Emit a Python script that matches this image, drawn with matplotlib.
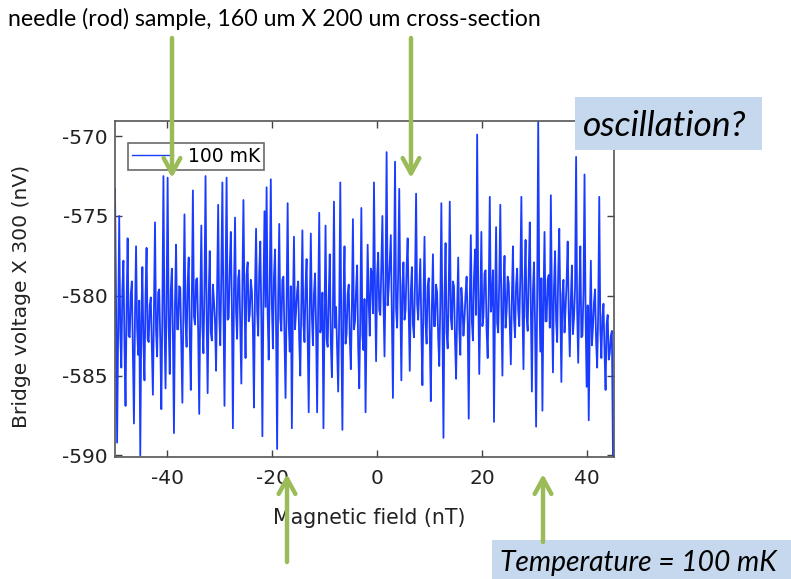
import numpy as np
import matplotlib
matplotlib.use("Agg")
import matplotlib.pyplot as plt
from matplotlib.patches import Rectangle, FancyArrowPatch

plt.rcParams["axes.unicode_minus"] = False

W, H = 791, 579

# field sweep (nT) and bridge voltage x 300 (nV)
FIELD_START, FIELD_STOP = -50.0, 45.0
bridge_nv = [
    # -50 .. -40.6
    -573.3, -580.4, -589.2, -581.8, -575.0, -582.3, -584.5, -579.6, -577.8, -583.1, -586.9, -580.7,
    -576.4, -582.5, -582.6, -579.9, -579.1, -583.4, -588.0, -581.2, -576.9, -582.0, -583.7, -580.3,
    -590.0, -581.6, -578.2, -583.0, -585.3, -580.0, -577.0, -582.7, -582.9, -580.6, -580.1, -583.3,
    -586.2, -581.0, -575.4, -582.2, -583.8, -579.8, -579.6, -582.8, -587.1, -580.9, -572.5, -581.7,
    # -40.4 .. -31.0
    -585.8, -580.2, -572.6, -581.9, -584.9, -579.7, -578.3, -582.4, -588.6, -580.5, -576.8, -582.1,
    -582.1, -579.4, -579.5, -583.0, -586.7, -580.8, -574.9, -581.5, -583.2, -579.2, -577.6, -582.6,
    -585.9, -580.1, -573.4, -581.3, -581.8, -579.0, -578.9, -582.2, -587.4, -580.6, -575.6, -581.9,
    -583.6, -579.5, -572.5, -581.1, -586.1, -580.0, -577.2, -582.3, -582.8, -579.3, -580.3, -581.6,
    # -30.8 .. -21.4
    -584.7, -579.5, -574.3, -581.2, -583.1, -578.6, -572.9, -580.8, -586.9, -579.1, -572.6, -581.5,
    -581.4, -578.2, -576.0, -580.6, -588.3, -579.8, -575.1, -581.0, -582.7, -578.9, -578.4, -581.8,
    -585.5, -579.3, -574.0, -580.4, -583.9, -578.7, -577.9, -581.6, -581.2, -579.0, -579.7, -582.0,
    -587.0, -579.6, -575.8, -580.9, -582.5, -578.5, -576.6, -581.3, -588.8, -579.9, -574.7, -580.7,
    # -21.2 .. -11.8
    -573.2, -581.1, -584.0, -579.2, -572.7, -580.5, -583.3, -578.8, -577.1, -581.9, -589.6, -580.2,
    -575.5, -581.4, -582.2, -579.0, -578.8, -582.5, -586.4, -580.6, -574.2, -581.7, -583.5, -579.4,
    -588.3, -580.9, -576.3, -582.1, -581.0, -579.7, -579.1, -582.8, -585.0, -580.3, -575.9, -581.8,
    -582.9, -579.5, -577.7, -582.3, -587.3, -580.8, -576.1, -581.2, -583.1, -579.9, -578.6, -582.0,
    # -11.6 .. -2.2
    -587.3, -580.6, -574.8, -582.3, -581.9, -579.8, -588.3, -581.4, -575.6, -582.7, -583.2, -580.1,
    -577.4, -582.9, -585.1, -580.9, -574.1, -582.0, -580.7, -583.3, -586.0, -581.1, -572.9, -582.4,
    -588.4, -580.5, -576.9, -583.0, -582.4, -579.9, -579.3, -582.6, -584.6, -580.8, -575.2, -582.1,
    -581.6, -579.6, -578.1, -583.2, -585.8, -581.3, -574.5, -582.5, -583.4, -580.2, -587.3, -581.5,
    # -2.0 .. 7.4
    -576.8, -580.4, -582.5, -578.3, -578.6, -581.1, -572.9, -579.5, -584.1, -578.7, -577.3, -580.9,
    -581.2, -578.1, -575.0, -580.2, -583.8, -579.0, -571.0, -580.6, -579.5, -577.9, -576.2, -581.3,
    -586.4, -579.2, -571.6, -580.8, -582.0, -578.5, -573.3, -580.0, -585.3, -579.4, -577.9, -581.5,
    -580.9, -578.2, -576.4, -581.0, -584.7, -579.7, -578.2, -581.8, -582.6, -579.1, -573.6, -580.5,
    # 7.6 .. 17.0
    -581.5, -579.6, -577.7, -582.0, -585.6, -580.3, -576.3, -581.7, -583.0, -579.4, -578.9, -582.4,
    -586.6, -580.7, -577.4, -581.9, -581.9, -579.3, -579.8, -582.6, -584.4, -580.5, -574.2, -581.2,
    -588.9, -580.0, -576.7, -582.3, -583.3, -579.7, -574.1, -581.4, -582.1, -579.1, -579.4, -582.8,
    -585.2, -580.9, -577.6, -582.1, -583.7, -579.5, -580.6, -582.5, -581.4, -579.9, -578.8, -581.6,
    # 17.2 .. 26.6
    -587.7, -580.3, -576.2, -581.6, -582.8, -578.9, -577.1, -581.2, -569.9, -579.4, -584.9, -580.7,
    -576.0, -581.9, -581.3, -578.6, -578.4, -582.2, -583.9, -579.8, -573.8, -581.0, -580.2, -578.4,
    -587.9, -580.5, -575.7, -581.7, -582.3, -579.1, -574.3, -580.8, -585.0, -579.6, -577.5, -582.0,
    -581.0, -578.8, -579.2, -581.8, -584.3, -580.1, -576.9, -581.4, -582.6, -579.3, -578.3, -580.9,
    # 26.8 .. 36.2
    -581.9, -578.8, -573.8, -580.6, -584.6, -579.2, -576.5, -581.3, -582.2, -578.5, -575.4, -580.9,
    -586.0, -579.7, -577.9, -581.8, -588.2, -580.2, -569.1, -579.5, -583.5, -578.9, -587.2, -580.4,
    -576.0, -581.6, -581.6, -579.0, -578.7, -582.0, -573.7, -580.3, -584.8, -579.4, -577.2, -581.5,
    -582.9, -578.6, -575.8, -580.7, -585.4, -579.9, -579.0, -582.3, -580.8, -579.1, -576.6, -581.1,
    # 36.4 .. 45.0
    -583.8, -580.2, -578.1, -582.4, -581.4, -579.5, -571.3, -580.9, -584.2, -580.0, -576.9, -582.6,
    -582.5, -579.8, -572.4, -581.2, -585.7, -580.6, -587.8, -581.9, -577.8, -583.1, -582.0, -580.4,
    -579.6, -582.8, -584.5, -581.0, -573.8, -582.1, -583.9, -581.3, -580.5, -583.5, -585.9, -581.8,
    -581.2, -584.0, -583.6, -582.5, -582.2, -590.0,
]
field_nt = np.linspace(FIELD_START, FIELD_STOP, len(bridge_nv))

x_ticks = [-40, -20, 0, 20, 40]
y_ticks = [-570, -575, -580, -585, -590]
legend_label = "100 mK"
title_text = "needle (rod) sample, 160 um X 200 um cross-section"
note_top = "oscillation?"
note_bottom = "Temperature = 100 mK"

GREEN = "#9bbb59"
BOXBLUE = "#c5d8ee"


def fp(x, y):  # pixel -> figure fraction
    return (x / W, 1 - y / H)


fig = plt.figure(figsize=(W / 100, H / 100), dpi=100)
ax = fig.add_axes([115 / W, 1 - 457 / H, (614 - 115) / W, (457 - 121) / H])

ax.plot(field_nt, bridge_nv, color="#1a3cff", lw=1.3, label=legend_label)
ax.set_xlim(-50, 45.2)
ax.set_ylim(-590.1, -569.05)
ax.set_xticks(x_ticks)
ax.set_yticks(y_ticks)
ax.tick_params(direction="in", top=True, right=True, length=5, width=1,
               color="#444444", labelsize=14.5, labelcolor="#222222")
ax.tick_params(axis="x", pad=9)
ax.tick_params(axis="y", pad=5)
for s in ax.spines.values():
    s.set_color("#555555")
    s.set_linewidth(1.2)
ax.set_xlabel("Magnetic field (nT)", fontsize=14.8, color="#222222", va="center")
ax.set_ylabel("Bridge voltage X 300 (nV)", fontsize=14.6, color="#222222", va="center")
ax.xaxis.set_label_coords((369 - 115) / 499, -(518 - 457) / 336)
ax.yaxis.set_label_coords((22 - 115) / 499, (457 - 296) / 336)
leg = ax.legend(loc="upper left", fontsize=13.5, frameon=True, fancybox=False,
                handlelength=2.2, borderpad=0.2, borderaxespad=0,
                bbox_to_anchor=((128 - 115) / 499, (457 - 143) / 336))
leg.get_frame().set_edgecolor("#444444")
leg.get_frame().set_linewidth(1.2)
leg.get_lines()[0].set_linewidth(1.0)

fig.text(*fp(8, 19), title_text, fontsize=16.7, family="Lato", va="center", ha="left", color="black")

# green arrows
for (x0, y0, x1, y1) in [(172, 38, 172, 178), (411, 38, 411, 178), (287, 562, 287, 474), (543, 542, 543, 474)]:
    arr = FancyArrowPatch(fp(x0, y0), fp(x1, y1), transform=fig.transFigure,
                          arrowstyle="->,head_length=1.1,head_width=0.6", mutation_scale=10,
                          color=GREEN, lw=3.2, zorder=6, shrinkA=0, shrinkB=0)
    fig.add_artist(arr)

# note boxes
fig.add_artist(Rectangle(fp(575, 150), 187 / W, 53 / H, transform=fig.transFigure,
                         facecolor=BOXBLUE, edgecolor="none", zorder=5))
fig.text(*fp(583, 126), note_top, fontsize=25.5, family="Lato", style="italic",
         va="center", ha="left", color="black", zorder=7)
fig.add_artist(Rectangle(fp(492, 579), 299 / W, 39 / H, transform=fig.transFigure,
                         facecolor=BOXBLUE, edgecolor="none", zorder=5))
fig.text(*fp(500, 563), note_bottom, fontsize=20.3, family="Lato", style="italic",
         va="center", ha="left", color="black", zorder=7)

fig.savefig("out.png", dpi=100)
